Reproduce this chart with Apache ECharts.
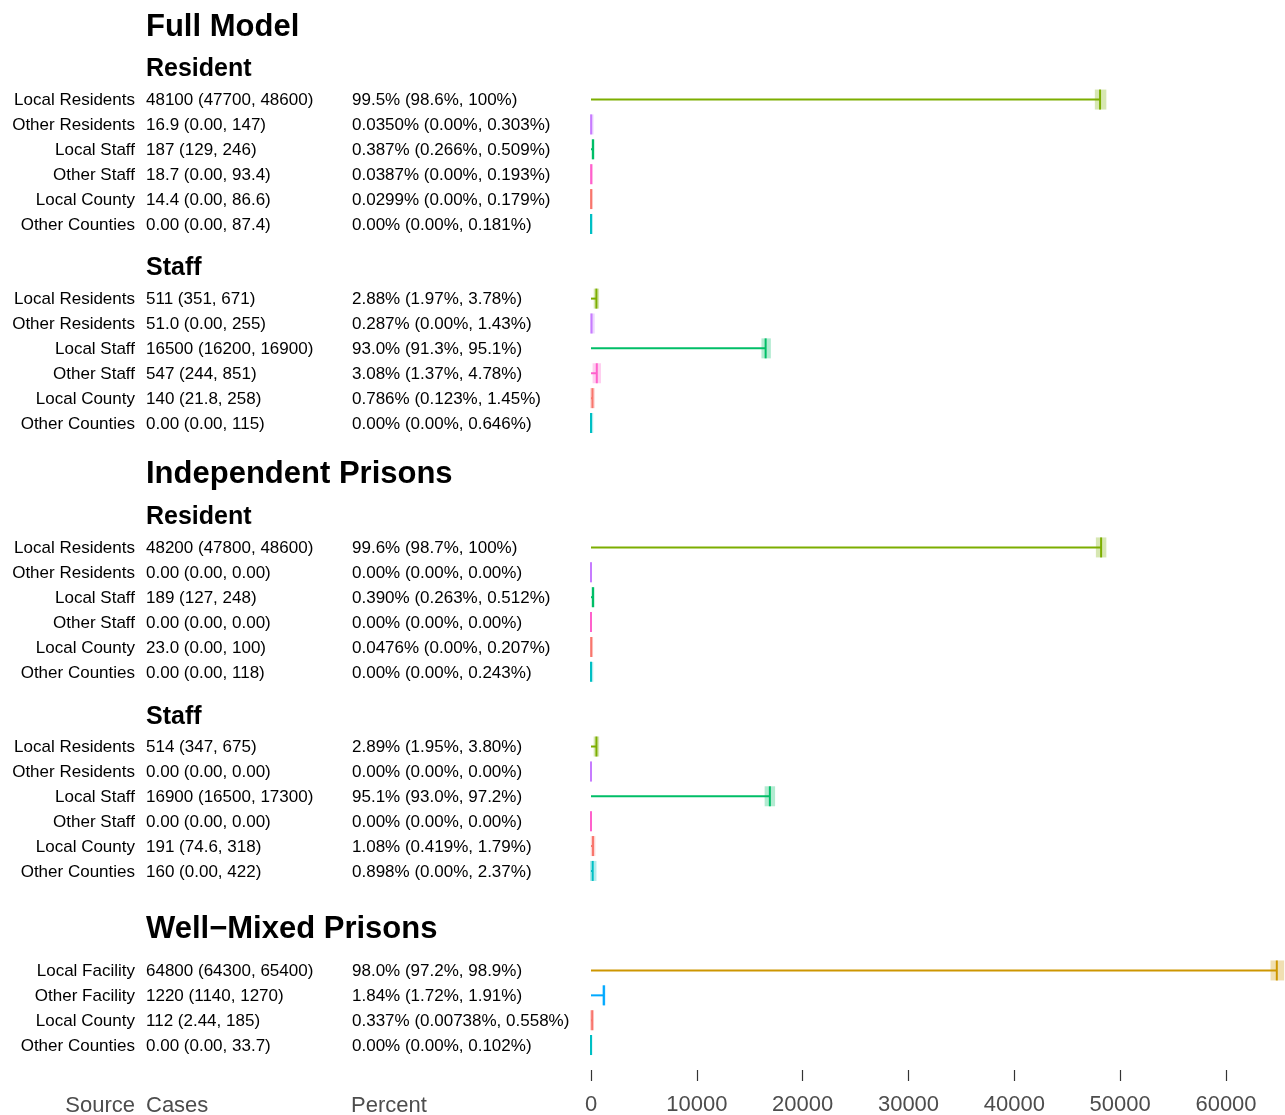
<!DOCTYPE html>
<html>
<head>
<meta charset="utf-8">
<script src="https://cdn.jsdelivr.net/npm/echarts@6/dist/echarts.min.js"></script>
<style>html,body{margin:0;padding:0;background:#fff;}#c{width:1285px;height:1115px;}</style>
</head>
<body>
<div id="c"></div>
<script>
// ---- data ----
var sourceNames = [
  'Local Residents','Other Residents','Local Staff','Other Staff','Local County','Other Counties',
  'Local Residents','Other Residents','Local Staff','Other Staff','Local County','Other Counties',
  'Local Residents','Other Residents','Local Staff','Other Staff','Local County','Other Counties',
  'Local Residents','Other Residents','Local Staff','Other Staff','Local County','Other Counties',
  'Local Facility','Other Facility','Local County','Other Counties'
];
// row slot (row index in layout)
var rowSlots = [0,1,2,3,4,5, 8,9,10,11,12,13, 18,19,20,21,22,23, 26,27,28,29,30,31, 35,36,37,38];
var casesEst = [48100,16.9,187,18.7,14.4,0, 511,51.0,16500,547,140,0, 48200,0,189,0,23.0,0, 514,0,16900,0,191,160, 64800,1220,112,0];
var casesLo  = [47700,0,129,0,0,0, 351,0,16200,244,21.8,0, 47800,0,127,0,0,0, 347,0,16500,0,74.6,0, 64300,1140,2.44,0];
var casesHi  = [48600,147,246,93.4,86.6,87.4, 671,255,16900,851,258,115, 48600,0,248,0,100,118, 675,0,17300,0,318,422, 65400,1270,185,33.7];
var pctEst = [99.5,0.0350,0.387,0.0387,0.0299,0, 2.88,0.287,93.0,3.08,0.786,0, 99.6,0,0.390,0,0.0476,0, 2.89,0,95.1,0,1.08,0.898, 98.0,1.84,0.337,0];
var pctLo  = [98.6,0,0.266,0,0,0, 1.97,0,91.3,1.37,0.123,0, 98.7,0,0.263,0,0,0, 1.95,0,93.0,0,0.419,0, 97.2,1.72,0.00738,0];
var pctHi  = [100,0.303,0.509,0.193,0.179,0.181, 3.78,1.43,95.1,4.78,1.45,0.646, 100,0,0.512,0,0.207,0.243, 3.80,0,97.2,0,1.79,2.37, 98.9,1.91,0.558,0.102];

var headerTexts = ['Full Model','Resident','Staff','Independent Prisons','Resident','Staff','Well\u2212Mixed Prisons'];
var headerSlots = [-2.97,-1.29,6.71,15.0,16.72,24.72,33.27];
var headerLevels = [1,2,2,1,2,2,1];

var xTicks = [0,10000,20000,30000,40000,50000,60000];
var bottomLabels = ['Source','Cases','Percent'];

var sourceColors = {
  'Local County':'#F8766D','Local Facility':'#CD9600','Local Residents':'#7CAE00','Local Staff':'#00BE67',
  'Other Counties':'#00BFC4','Other Facility':'#00A9FF','Other Residents':'#C77CFF','Other Staff':'#FF61CC'
};

function fmt(v){
  if (v === 0) return '0.00';
  var s = Number(v).toPrecision(3);
  if (s.indexOf('e') >= 0) s = String(Math.round(Number(s)));
  return s;
}

var FONT = 'Liberation Sans, Arial, sans-serif';
var rows = sourceNames.map(function(n,i){
  return [casesEst[i], rowSlots[i], casesLo[i], casesHi[i], i];
});

var chart = echarts.init(document.getElementById('c'), null, {renderer:'canvas'});
chart.setOption({
  animation:false,
  grid:{left:591, width:635, top:0, bottom:45, outerBoundsMode:'none', containLabel:false},
  xAxis:{
    type:'value', min:0, max:60000, interval:10000,
    axisLine:{show:false, onZero:false}, splitLine:{show:false},
    axisTick:{show:true, length:11, lineStyle:{color:'#333', width:1.2}},
    axisLabel:{color:'#4D4D4D', fontSize:22, fontFamily:FONT, margin:24,
      formatter:function(v){ return xTicks.indexOf(v) >= 0 ? String(v) : ''; }}
  },
  yAxis:{type:'value', min:-4, max:39, inverse:true, show:false},
  series:[
    {
      type:'custom', clip:false,
      data: rows,
      encode:{x:0,y:1},
      renderItem:function(params, api){
        var i = api.value(4);
        var y = api.coord([0, api.value(1)])[1];
        var x0 = api.coord([0, 0])[0];
        var xe = api.coord([api.value(0), 0])[0];
        var xl = api.coord([api.value(2), 0])[0];
        var xh = api.coord([api.value(3), 0])[0];
        var col = sourceColors[sourceNames[i]];
        var h = 20;
        var ty = y + 1;
        var children = [
          {type:'rect', shape:{x:xl-1, y:y-h/2, width:Math.max(xh-xl,0)+2, height:h},
            style:{fill:echarts.color.modifyAlpha(col,0.3)}},
          {type:'line', shape:{x1:x0, y1:y, x2:xe, y2:y}, style:{stroke:col, lineWidth:2}},
          {type:'line', shape:{x1:xe, y1:y-h/2, x2:xe, y2:y+h/2}, style:{stroke:col, lineWidth:2}},
          {type:'text', x:135, y:ty, style:{text:sourceNames[i], fill:'#000', font:'17px '+FONT, align:'right', verticalAlign:'middle'}},
          {type:'text', x:146, y:ty, style:{text:fmt(casesEst[i])+' ('+fmt(casesLo[i])+', '+fmt(casesHi[i])+')', fill:'#000', font:'17px '+FONT, align:'left', verticalAlign:'middle'}},
          {type:'text', x:352, y:ty, style:{text:fmt(pctEst[i])+'% ('+fmt(pctLo[i])+'%, '+fmt(pctHi[i])+'%)', fill:'#000', font:'17px '+FONT, align:'left', verticalAlign:'middle'}}
        ];
        return {type:'group', children:children};
      }
    },
    {
      type:'custom', clip:false,
      data: headerTexts.map(function(t,i){ return [0, headerSlots[i], i]; }),
      encode:{x:0,y:1},
      renderItem:function(params, api){
        var i = api.value(2);
        var y = api.coord([0, api.value(1)])[1] + 2;
        var lvl = headerLevels[i];
        return {type:'text', x:146, y:y, style:{text:headerTexts[i], fill:'#000',
          font:'bold '+(lvl===1?'31px ':'25px ')+FONT, align:'left', verticalAlign:'middle'}};
      }
    }
  ],
  graphic:[
    {type:'text', x:135, y:1106, style:{text:bottomLabels[0], fill:'#4D4D4D', font:'22px '+FONT, align:'right', verticalAlign:'middle'}},
    {type:'text', x:146, y:1106, style:{text:bottomLabels[1], fill:'#4D4D4D', font:'22px '+FONT, align:'left', verticalAlign:'middle'}},
    {type:'text', x:351, y:1106, style:{text:bottomLabels[2], fill:'#4D4D4D', font:'22px '+FONT, align:'left', verticalAlign:'middle'}}
  ]
});
</script>
</body>
</html>
